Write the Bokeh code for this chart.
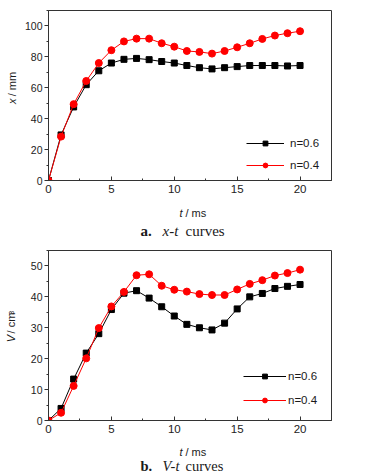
import math
from bokeh.plotting import figure
from bokeh.layouts import column, row
from bokeh.models import Range1d, SingleIntervalTicker, Legend, LegendItem, Label
from bokeh.embed import file_html
from bokeh.resources import INLINE

# ---- data ----
t = list(range(0, 21))
x_n06 = [0, 29.5, 47.6, 62.0, 71.0, 76.0, 78.4, 79.0, 78.2, 77.0, 76.0,
         74.4, 73.0, 72.2, 73.0, 73.7, 74.4, 74.4, 74.4, 74.1, 74.4]
x_n04 = [0, 28.4, 49.4, 64.4, 76.0, 84.3, 90.0, 91.8, 91.8, 88.8, 86.6,
         83.8, 83.2, 82.1, 83.8, 86.2, 88.8, 91.6, 93.8, 95.3, 96.6]
v_n06 = [0, 3.9, 13.4, 21.8, 28.1, 35.9, 41.2, 42.0, 39.6, 36.8, 33.8,
         31.1, 30.0, 29.3, 31.5, 36.1, 40.0, 41.1, 42.7, 43.4, 44.0]
v_n04 = [0, 2.5, 11.2, 20.1, 29.9, 36.9, 41.6, 47.0, 47.3, 43.6, 42.3,
         41.7, 40.9, 40.6, 40.6, 42.4, 44.2, 45.4, 46.9, 47.7, 48.8]
legend_labels = ["n=0.6", "n=0.4"]
x_ticks_interval = 5

SANS = "Liberation Sans"
SERIF = "Liberation Serif"
AX = "#333333"
TXT = "#1a1a1a"


def blank(width, height):
    f = figure(width=width, height=height, x_range=Range1d(0, width), y_range=Range1d(0, height),
               output_backend="svg", toolbar_location=None,
               x_axis_location=None, y_axis_location=None,
               min_border=0, min_border_left=0, min_border_right=0,
               min_border_top=0, min_border_bottom=0)
    f.outline_line_color = None
    f.xgrid.visible = False
    f.ygrid.visible = False
    f.background_fill_color = "white"
    f.border_fill_color = "white"
    return f


def lab(p, x, y, text, style="normal", font=SANS, size="11px", align="left",
        baseline="alphabetic", angle=0):
    p.add_layout(Label(x=x, y=y, text=text, text_font=font, text_font_size=size,
                       text_font_style=style, text_align=align, text_baseline=baseline,
                       angle=angle, text_color=TXT))


def make_panel(ymax, yint, s06, s04, legend_loc, glyph_w, spacing, standoff):
    p = figure(width=354, height=200, x_range=Range1d(0, 22.5), y_range=Range1d(0, ymax),
               output_backend="svg", toolbar_location=None,
               min_border_left=28, min_border_right=43, min_border_top=10, min_border_bottom=20)
    p.xgrid.visible = False
    p.ygrid.visible = False
    p.outline_line_color = AX
    p.outline_line_width = 1
    p.background_fill_color = "white"
    p.border_fill_color = "white"

    p.xaxis.ticker = SingleIntervalTicker(interval=x_ticks_interval, num_minor_ticks=2)
    p.yaxis.ticker = SingleIntervalTicker(interval=yint, num_minor_ticks=2)
    for ax in (p.xaxis[0], p.yaxis[0]):
        ax.axis_line_color = AX
        ax.major_tick_line_color = AX
        ax.minor_tick_line_color = AX
        ax.major_label_text_font = SANS
        ax.major_label_text_color = "#222222"
    p.xaxis.major_label_text_font_size = "11.5px"
    p.yaxis.major_label_text_font_size = "10.5px"
    p.yaxis.major_tick_out = 4
    p.yaxis.major_tick_in = 0
    p.yaxis.minor_tick_out = 2
    p.yaxis.minor_tick_in = 0
    p.yaxis.major_label_standoff = 2
    p.xaxis.major_tick_out = 0
    p.xaxis.major_tick_in = 4
    p.xaxis.minor_tick_out = 0
    p.xaxis.minor_tick_in = 2
    p.xaxis.major_label_standoff = 4

    l1 = p.line(t, s06, color="black", line_width=1)
    m1 = p.scatter(t, s06, marker="square", size=6, color="black")
    l2 = p.line(t, s04, color="#ff0000", line_width=1)
    m2 = p.scatter(t, s04, marker="circle", size=7, color="#ff0000")

    leg = Legend(items=[LegendItem(label=legend_labels[0], renderers=[l1, m1]),
                        LegendItem(label=legend_labels[1], renderers=[l2, m2])],
                 location=legend_loc, glyph_width=glyph_w, glyph_height=12, label_height=20,
                 spacing=spacing, padding=0, margin=0, label_standoff=standoff,
                 border_line_color=None, background_fill_alpha=0,
                 label_text_font=SANS, label_text_font_size="11.5px", label_text_color=TXT)
    p.add_layout(leg)
    return p


# ---- panel a ----
p1 = make_panel(110, 20, x_n06, x_n04, (198, 5), 38, 2, 6)
ylab1 = blank(20, 200)
lab(ylab1, 11, 90, "x", style="italic", baseline="middle", angle=math.pi / 2)
lab(ylab1, 11, 99, "/ mm", baseline="middle", angle=math.pi / 2)
cap1 = blank(374, 40)
lab(cap1, 182, 27.5, "t", style="italic", align="right")
lab(cap1, 185, 27.5, "/ ms")
lab(cap1, 140, 10, "a.", style="bold", font=SERIF, size="15px")
lab(cap1, 162, 10, "x-t", style="italic", font=SERIF, size="15px")
lab(cap1, 185, 10, "curves", font=SERIF, size="15px")

# ---- panel b ----
p2 = make_panel(55, 10, v_n06, v_n04, (195, 10), 43, 4, 2)
ylab2 = blank(20, 200)
lab(ylab2, 10, 92, "V", style="italic", baseline="middle", angle=math.pi / 2)
lab(ylab2, 10, 102.5, "/ cm", baseline="middle", angle=math.pi / 2)
lab(ylab2, 11, 124.5, "3", size="7px", baseline="middle", angle=math.pi / 2)
cap2 = blank(374, 35)
lab(cap2, 182, 24, "t", style="italic", align="right")
lab(cap2, 185, 24, "/ ms")
lab(cap2, 140, 10, "b.", style="bold", font=SERIF, size="14.5px")
lab(cap2, 162, 10, "V-t", style="italic", font=SERIF, size="14.5px")
lab(cap2, 185, 10, "curves", font=SERIF, size="14.5px")

layout = column(row(ylab1, p1, spacing=0), cap1, row(ylab2, p2, spacing=0), cap2, spacing=0)
open("out.html", "w").write(file_html(layout, INLINE))
